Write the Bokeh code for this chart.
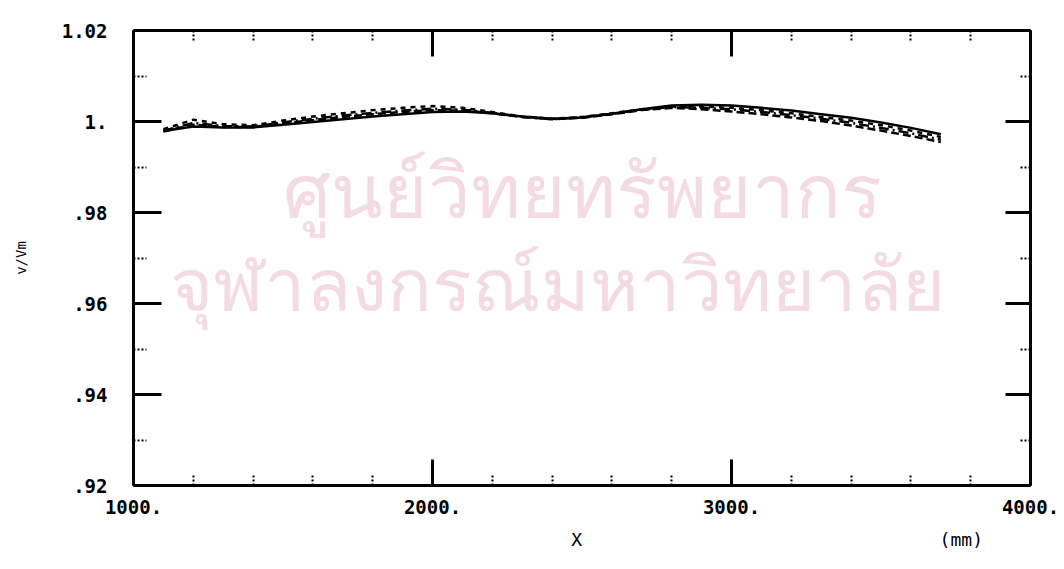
from bokeh.plotting import figure
from bokeh.models import FixedTicker, LinearAxis, Range1d, Label
from bokeh.embed import file_html
from bokeh.resources import INLINE

# ---------------- data ----------------
x_mm = [1100, 1200, 1300, 1400, 1500, 1600, 1700, 1800, 1900, 2000, 2100, 2200, 2300, 2400,
        2500, 2600, 2700, 2800, 2900, 3000, 3100, 3200, 3300, 3400, 3500, 3600, 3700]

v_solid = [0.9979, 0.9989, 0.9987, 0.9987, 0.9993, 0.9999, 1.0005, 1.0011, 1.0016, 1.0021,
           1.0022, 1.0018, 1.0011, 1.0006, 1.0009, 1.0017, 1.0027, 1.0035, 1.0037, 1.0035,
           1.0030, 1.0024, 1.0016, 1.0008, 0.9998, 0.9986, 0.9972]
v_dash_c = [0.9983, 1.0004, 0.9994, 0.9992, 1.0002, 1.0011, 1.0018, 1.0025, 1.0030, 1.0034,
            1.0030, 1.0021, 1.0011, 1.0006, 1.0010, 1.0018, 1.0027, 1.0033, 1.0033, 1.0030,
            1.0025, 1.0018, 1.0010, 1.0002, 0.9992, 0.9980, 0.9966]
v_dashdot_b = [0.9980, 0.9997, 0.9990, 0.9989, 0.9998, 1.0006, 1.0013, 1.0019, 1.0024, 1.0028,
               1.0026, 1.0019, 1.0010, 1.0005, 1.0009, 1.0017, 1.0026, 1.0032, 1.0030, 1.0027,
               1.0021, 1.0014, 1.0006, 0.9997, 0.9986, 0.9974, 0.9960]
v_dash_a = [0.9978, 0.9993, 0.9988, 0.9988, 0.9996, 1.0003, 1.0010, 1.0016, 1.0021, 1.0025,
            1.0024, 1.0018, 1.0010, 1.0005, 1.0008, 1.0016, 1.0025, 1.0030, 1.0027, 1.0022,
            1.0016, 1.0009, 1.0001, 0.9991, 0.9980, 0.9968, 0.9955]

x_ticks = [1000, 2000, 3000, 4000]
x_tick_labels = ["1000.", "2000.", "3000.", "4000."]
x_minor_ticks = [1200, 1400, 1600, 1800, 2200, 2400, 2600, 2800, 3200, 3400, 3600, 3800]

y_ticks = [0.92, 0.94, 0.96, 0.98, 1.0, 1.02]
y_tick_labels = [".92", ".94", ".96", ".98", "1.", "1.02"]
y_minor_ticks = [0.93, 0.95, 0.97, 0.99, 1.01]

x_title = "X"
x_unit = "(mm)"
y_title = "v/Vm"

watermark_1 = "ศูนย์วิทยทรัพยากร"
watermark_2 = "จุฬาลงกรณ์มหาวิทยาลัย"

# ---------------- figure ----------------
p = figure(width=1060, height=561, output_backend="svg", toolbar_location=None,
           x_range=Range1d(1000, 4000), y_range=Range1d(0.92, 1.02),
           x_axis_location=None, y_axis_location=None,
           min_border_left=133, min_border_right=30, min_border_top=30, min_border_bottom=76)
p.grid.visible = False
p.outline_line_color = None
p.background_fill_color = "white"

FONT = "DejaVu Sans Mono"

def style_axis(ax, labels, major_in, minor_in):
    ax.axis_line_width = 3
    ax.axis_line_color = "black"
    ax.major_tick_in = major_in
    ax.major_tick_out = 0
    ax.major_tick_line_width = 3
    ax.minor_tick_in = minor_in
    ax.minor_tick_out = 0
    ax.minor_tick_line_width = 2
    ax.minor_tick_line_dash = "2 2"
    ax.major_label_text_font = FONT
    ax.major_label_text_font_style = "bold"
    ax.major_label_text_color = "black"
    if not labels:
        ax.major_label_text_font_size = "0px"
        ax.major_label_standoff = 0

# left
yl = LinearAxis(ticker=FixedTicker(ticks=y_ticks, minor_ticks=y_minor_ticks),
                major_label_overrides=dict(zip(y_ticks, y_tick_labels)))
style_axis(yl, True, 28, 13)
yl.major_label_text_font_size = "19px"
yl.major_label_standoff = 26
yl.axis_label = y_title
yl.axis_label_text_font = FONT
yl.axis_label_text_font_style = "normal"
yl.axis_label_text_font_size = "14px"
yl.axis_label_text_color = "black"
yl.axis_label_standoff = 30
p.add_layout(yl, "left")

# right
yr = LinearAxis(ticker=FixedTicker(ticks=y_ticks, minor_ticks=y_minor_ticks),
                major_label_overrides={t: "" for t in y_ticks})
style_axis(yr, False, 25, 12)
p.add_layout(yr, "right")

# bottom (axis title: "X" centred under the frame, unit "(mm)" to its right)
NB = "\u00a0"
xb = LinearAxis(ticker=FixedTicker(ticks=x_ticks, minor_ticks=x_minor_ticks),
                major_label_overrides=dict(zip(x_ticks, x_tick_labels)))
style_axis(xb, True, 26, 12)
xb.major_label_text_font_size = "19px"
xb.major_label_standoff = 14
xb.axis_label = NB * 36 + x_title + NB * 33 + x_unit
xb.axis_label_text_font = FONT
xb.axis_label_text_font_style = "normal"
xb.axis_label_text_font_size = "18px"
xb.axis_label_text_color = "black"
xb.axis_label_standoff = 12
p.add_layout(xb, "below")

# top
xt = LinearAxis(ticker=FixedTicker(ticks=x_ticks, minor_ticks=x_minor_ticks),
                major_label_overrides={t: "" for t in x_ticks})
style_axis(xt, False, 26, 12)
p.add_layout(xt, "above")

# watermark
p.add_layout(Label(x=2502, y=0.9853, text=watermark_1, text_align="center", text_baseline="middle",
                   text_font="Noto Sans", text_font_size="76px", text_color="#f3dae3",
                   level="underlay"))
p.add_layout(Label(x=2418, y=0.9646, text=watermark_2, text_align="center", text_baseline="middle",
                   text_font="Noto Sans", text_font_size="74px", text_color="#f3dae3",
                   level="underlay"))

# curves
p.line(x_mm, v_dash_a, line_color="black", line_width=2.5, line_dash="8 4")
p.line(x_mm, v_dashdot_b, line_color="black", line_width=2.5, line_dash="10 4 2 4")
p.line(x_mm, v_dash_c, line_color="black", line_width=2.5, line_dash="5 5")
p.line(x_mm, v_solid, line_color="black", line_width=2.5)

open("out.html", "w").write(file_html(p, INLINE))
